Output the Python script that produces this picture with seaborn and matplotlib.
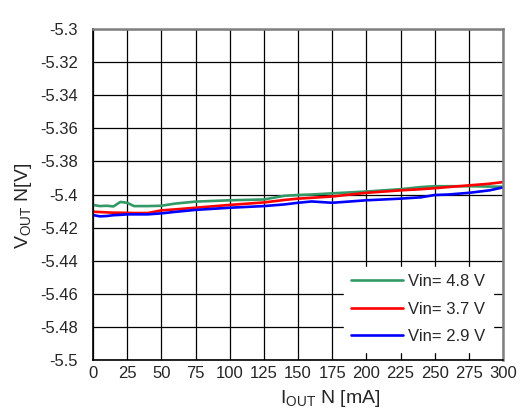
import matplotlib
matplotlib.use('Agg')
import matplotlib.pyplot as plt
import seaborn as sns
import pandas as pd

# load current [mA]
iout = [0, 5, 10, 15, 20, 25, 30, 40, 50, 60, 75, 100, 125, 140, 150, 160,
        175, 200, 225, 240, 250, 260, 275, 290, 300]
# output voltage [V] per input voltage
vout_48 = [-5.4063, -5.4070, -5.4068, -5.4072, -5.4045, -5.4050, -5.4070, -5.4070,
           -5.4068, -5.4055, -5.4043, -5.4035, -5.4030, -5.4008, -5.4003, -5.4000,
           -5.3993, -5.3982, -5.3968, -5.3955, -5.3950, -5.3950, -5.3950, -5.3952,
           -5.3953]
vout_37 = [-5.4104, -5.4106, -5.4108, -5.4110, -5.4110, -5.4111, -5.4112, -5.4112,
           -5.4096, -5.4090, -5.4080, -5.4063, -5.4048, -5.4033, -5.4025, -5.4020,
           -5.4012, -5.3990, -5.3975, -5.3968, -5.3962, -5.3955, -5.3945, -5.3935,
           -5.3925]
vout_29 = [-5.4124, -5.4132, -5.4130, -5.4125, -5.4123, -5.4120, -5.4120, -5.4120,
           -5.4114, -5.4105, -5.4093, -5.4080, -5.4070, -5.4060, -5.4050, -5.4042,
           -5.4050, -5.4035, -5.4025, -5.4017, -5.4003, -5.4000, -5.3990, -5.3975,
           -5.3957]
labels = ['Vin= 4.8 V', 'Vin= 3.7 V', 'Vin= 2.9 V']
colors = ['#339966', '#ff0000', '#0000ff']

df = pd.concat([
    pd.DataFrame({'iout': iout, 'vout': v, 'vin': lab})
    for v, lab in zip([vout_48, vout_37, vout_29], labels)
])

sns.set_style('white')
plt.rcParams['font.family'] = ['Liberation Sans', 'DejaVu Sans']
plt.rcParams['mathtext.fontset'] = 'custom'
plt.rcParams['mathtext.rm'] = 'Liberation Sans'
plt.rcParams['mathtext.it'] = 'Liberation Sans'

fig = plt.figure(figsize=(5.21, 4.16), dpi=100)
ax = fig.add_axes([0.1785, 0.1346, 0.787, 0.7957])
sns.lineplot(data=df, x='iout', y='vout', hue='vin', hue_order=labels,
             palette=colors, linewidth=1.9, ax=ax, estimator=None, sort=False)

ax.set_xlim(0, 300)
ax.set_ylim(-5.5, -5.3)
ax.set_xticks(range(0, 301, 25))
yt = [-5.5 + 0.02 * i for i in range(11)]
ax.set_yticks(yt)
ax.set_yticklabels(['%g' % round(v, 2) for v in yt])
ax.grid(True, color='black', linewidth=0.9)
ax.tick_params(axis='both', direction='in', length=5, labelsize=12, color='black')
ax.tick_params(axis='y', pad=11)
ax.tick_params(axis='x', pad=4)
for side in ['left', 'bottom']:
    ax.spines[side].set_color('black')
    ax.spines[side].set_linewidth(1.2)
for side in ['top', 'right']:
    ax.spines[side].set_color('#808080')
    ax.spines[side].set_linewidth(1.8)

ax.set_xlabel(r'I$_{\mathrm{OUT}}$ N [mA]', fontsize=14, labelpad=0)
ax.set_ylabel(r'V$_{\mathrm{OUT}}$ N[V]', fontsize=14)
ax.xaxis.set_label_coords(0.578, -0.085)
ax.yaxis.set_label_coords(-0.145, 0.465)

leg = ax.legend(loc='lower right', fontsize=12, frameon=True, fancybox=False,
                handlelength=3.1, handletextpad=0.3, borderpad=0.45,
                labelspacing=0.75, bbox_to_anchor=(0.995, 0.0))
leg.get_frame().set_edgecolor('white')
leg.get_frame().set_facecolor('white')
leg.get_frame().set_alpha(1)
for line in leg.get_lines():
    line.set_linewidth(1.9)

fig.savefig('out.png', dpi=100)
